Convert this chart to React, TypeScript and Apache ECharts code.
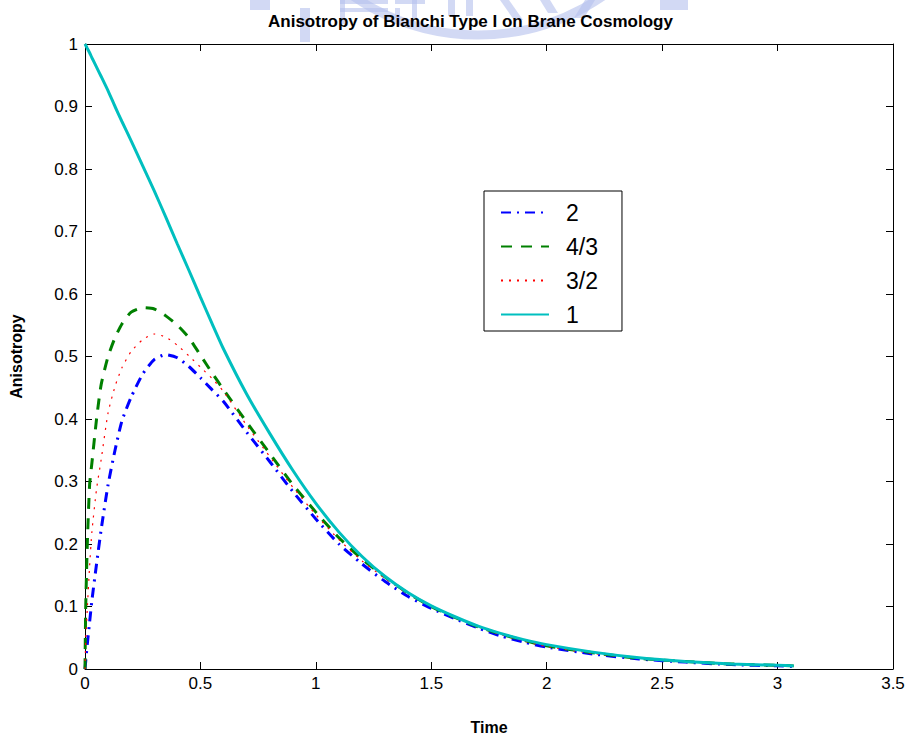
import React, { useEffect, useRef } from "react";
import * as echarts from "echarts";

const TITLE = "Anisotropy of Bianchi Type I on Brane Cosmology";
const X_NAME = "Time";
const Y_NAME = "Anisotropy";
const SERIES_NAMES = ["2", "4/3", "3/2", "1"];

const times = [0, 0.003, 0.01, 0.02, 0.03, 0.05, 0.07, 0.1, 0.13, 0.16, 0.2, 0.25, 0.3, 0.35, 0.4, 0.45, 0.5, 0.55, 0.6, 0.7, 0.8, 0.9, 1.0, 1.1, 1.2, 1.3, 1.4, 1.5, 1.6, 1.7, 1.8, 1.9, 2.0, 2.2, 2.4, 2.6, 2.8, 3.0, 3.07];

const valsTwo = [0, 0.012, 0.04, 0.075, 0.11, 0.168, 0.223, 0.295, 0.35, 0.397, 0.435, 0.472, 0.495, 0.503, 0.498, 0.484, 0.466, 0.447, 0.428, 0.379, 0.332, 0.284, 0.24, 0.2, 0.168, 0.14, 0.116, 0.097, 0.081, 0.066, 0.053, 0.043, 0.035, 0.024, 0.016, 0.011, 0.007, 0.005, 0.004];
const valsFourThirds = [0, 0.097, 0.2, 0.295, 0.33, 0.4, 0.455, 0.5, 0.53, 0.552, 0.571, 0.578, 0.576, 0.565, 0.55, 0.53, 0.502, 0.474, 0.447, 0.395, 0.345, 0.295, 0.251, 0.21, 0.176, 0.147, 0.121, 0.1, 0.083, 0.068, 0.056, 0.046, 0.037, 0.026, 0.017, 0.012, 0.008, 0.006, 0.005];
const valsThreeHalves = [0, 0.045, 0.097, 0.165, 0.22, 0.288, 0.335, 0.41, 0.452, 0.482, 0.508, 0.527, 0.536, 0.531, 0.518, 0.501, 0.483, 0.465, 0.444, 0.39, 0.34, 0.291, 0.247, 0.207, 0.173, 0.145, 0.12, 0.1, 0.083, 0.068, 0.055, 0.045, 0.036, 0.025, 0.017, 0.011, 0.008, 0.005, 0.005];
const valsOne = [1, 0.998, 0.993, 0.986, 0.978, 0.963, 0.948, 0.925, 0.9, 0.876, 0.845, 0.805, 0.765, 0.723, 0.68, 0.638, 0.595, 0.553, 0.512, 0.44, 0.377, 0.318, 0.265, 0.219, 0.18, 0.148, 0.122, 0.101, 0.084, 0.069, 0.057, 0.047, 0.039, 0.027, 0.018, 0.012, 0.008, 0.006, 0.005];

const FONT = "'Liberation Sans', Arial, Helvetica, sans-serif";

export default function App() {
  const ref = useRef<HTMLDivElement>(null);
  useEffect(() => {
    if (!ref.current) return;
    const chart = echarts.init(ref.current, null, { renderer: "svg" });
    const pairs = (vals: number[]) => times.map((t, i) => [t, vals[i]]);
    const wm = { fill: "#b4bfec", opacity: 0.6 };
    const axisCommon = {
      type: "value" as const,
      axisLine: { show: true, onZero: false, lineStyle: { color: "#000", width: 1 } },
      axisTick: { show: true, inside: true, length: 7, lineStyle: { color: "#000" } },
      splitLine: { show: false },
    };
    chart.setOption({
      animation: false,
      backgroundColor: "#fff",
      graphic: [
        { type: "arc", z: 0, shape: { cx: 478, cy: -185, r: 220, startAngle: Math.PI * 0.2, endAngle: Math.PI * 0.8 }, style: { stroke: "#b4bfec", lineWidth: 9, fill: null, opacity: 0.6 } },
        { type: "rect", z: 0, shape: { x: 300, y: 8, width: 10, height: 34 }, style: wm },
        { type: "rect", z: 0, shape: { x: 340, y: 0, width: 48, height: 4 }, style: wm },
        { type: "rect", z: 0, shape: { x: 340, y: 8, width: 48, height: 4 }, style: wm },
        { type: "rect", z: 0, shape: { x: 340, y: 0, width: 5, height: 24 }, style: wm },
        { type: "rect", z: 0, shape: { x: 395, y: 0, width: 30, height: 4 }, style: wm },
        { type: "rect", z: 0, shape: { x: 395, y: 8, width: 5, height: 10 }, style: wm },
        { type: "rect", z: 0, shape: { x: 412, y: 0, width: 5, height: 18 }, style: wm },
        { type: "rect", z: 0, shape: { x: 448, y: 0, width: 7, height: 16 }, style: wm },
        { type: "rect", z: 0, shape: { x: 466, y: 0, width: 7, height: 16 }, style: wm },
        { type: "polygon", z: 0, shape: { points: [[500, 0], [509, 0], [523, 20], [514, 20]] }, style: wm },
        { type: "polygon", z: 0, shape: { points: [[540, 0], [550, 0], [558, 13], [548, 13]] }, style: wm },
        { type: "polygon", z: 0, shape: { points: [[585, 0], [595, 0], [584, 18], [574, 18]] }, style: wm },
        { type: "rect", z: 0, shape: { x: 250, y: 0, width: 20, height: 10 }, style: wm },
        { type: "rect", z: 0, shape: { x: 660, y: 0, width: 28, height: 10 }, style: wm },
      ],
      title: {
        text: TITLE,
        left: 263,
        top: 8,
        textStyle: { fontFamily: FONT, fontWeight: "bold", fontSize: 17, color: "#000" },
      },
      grid: { left: 84, right: 16, top: 44, bottom: 58, containLabel: false },
      legend: {
        orient: "vertical",
        left: 484,
        top: 191,
        data: SERIES_NAMES,
        backgroundColor: "#fff",
        borderColor: "#000",
        borderWidth: 1,
        padding: [10, 24, 5, 16],
        itemWidth: 48,
        itemHeight: 14,
        itemGap: 11,
        itemStyle: { opacity: 0 },
        textStyle: { fontFamily: FONT, fontSize: 23, color: "#000", padding: [0, 0, 0, 12] },
      },
      xAxis: [
        {
          ...axisCommon,
          position: "bottom",
          min: 0,
          max: 3.5,
          interval: 0.5,
          name: X_NAME,
          nameLocation: "middle",
          nameGap: 50,
          nameTextStyle: { fontFamily: FONT, fontWeight: "bold", fontSize: 16, color: "#000" },
          axisLabel: { show: true, margin: 6, color: "#000", fontFamily: FONT, fontSize: 17 },
        },
        {
          ...axisCommon,
          position: "top",
          min: 0,
          max: 3.5,
          interval: 0.5,
          axisLabel: { show: false },
        },
      ],
      yAxis: [
        {
          ...axisCommon,
          position: "left",
          min: 0,
          max: 1,
          interval: 0.1,
          name: Y_NAME,
          nameLocation: "middle",
          nameGap: 61,
          nameRotate: 90,
          nameTextStyle: { fontFamily: FONT, fontWeight: "bold", fontSize: 16, color: "#000" },
          axisLabel: { show: true, margin: 7, color: "#000", fontFamily: FONT, fontSize: 17 },
        },
        {
          ...axisCommon,
          position: "right",
          min: 0,
          max: 1,
          interval: 0.1,
          axisLabel: { show: false },
        },
      ],
      series: [
        {
          name: SERIES_NAMES[0],
          type: "line",
          data: pairs(valsTwo),
          symbol: "none",
          smooth: 0.2,
          lineStyle: { color: "#0000ff", width: 3, type: [10, 6, 2, 6] },
          itemStyle: { color: "#0000ff" },
        },
        {
          name: SERIES_NAMES[1],
          type: "line",
          data: pairs(valsFourThirds),
          symbol: "none",
          smooth: 0.2,
          lineStyle: { color: "#008000", width: 3, type: [11, 9] },
          itemStyle: { color: "#008000" },
        },
        {
          name: SERIES_NAMES[2],
          type: "line",
          data: pairs(valsThreeHalves),
          symbol: "none",
          smooth: 0.2,
          lineStyle: { color: "#ff0000", width: 1.2, type: [2, 6] },
          itemStyle: { color: "#ff0000" },
        },
        {
          name: SERIES_NAMES[3],
          type: "line",
          data: pairs(valsOne),
          symbol: "none",
          smooth: 0.2,
          lineStyle: { color: "#00bfbf", width: 3, type: "solid" },
          itemStyle: { color: "#00bfbf" },
        },
      ],
    });
    return () => chart.dispose();
  }, []);
  return <div ref={ref} style={{ width: 909, height: 740, position: "absolute", left: 0, top: 0 }} />;
}
